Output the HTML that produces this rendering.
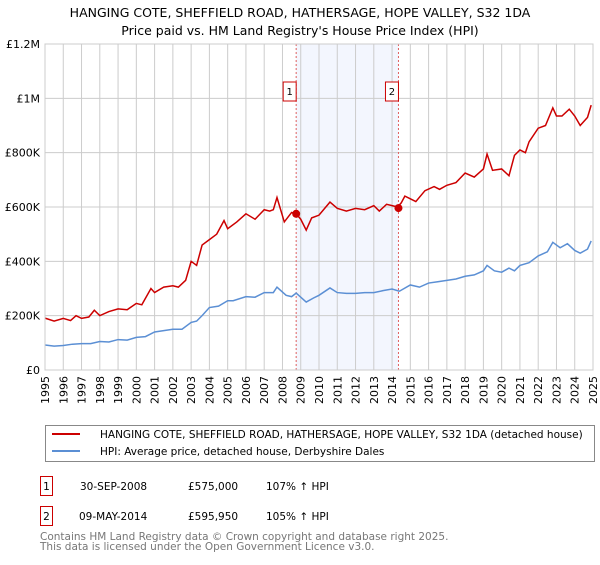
<!DOCTYPE html>
<html><head><meta charset="utf-8"><style>
body{margin:0;background:#fff;font-family:"Liberation Sans","DejaVu Sans",sans-serif;}
</style></head><body>
<svg width="600" height="560" xmlns="http://www.w3.org/2000/svg" font-family="DejaVu Sans, Liberation Sans, sans-serif">
<text x="300" y="17" text-anchor="middle" font-size="12.5" fill="#000">HANGING COTE, SHEFFIELD ROAD, HATHERSAGE, HOPE VALLEY, S32 1DA</text>
<text x="300" y="35" text-anchor="middle" font-size="12.5" fill="#000">Price paid vs. HM Land Registry's House Price Index (HPI)</text>
<g id="plot"></g>
<g>
<rect x="45.5" y="425.5" width="549" height="36" fill="#fff" stroke="#888"/>
<line x1="52" y1="434" x2="80" y2="434" stroke="#cc0000" stroke-width="2"/>
<text x="100" y="438" font-size="10.5">HANGING COTE, SHEFFIELD ROAD, HATHERSAGE, HOPE VALLEY, S32 1DA (detached house)</text>
<line x1="52" y1="451" x2="80" y2="451" stroke="#5b8fd4" stroke-width="2"/>
<text x="100" y="455" font-size="10.5">HPI: Average price, detached house, Derbyshire Dales</text>
</g>
<g font-size="10.5">
<rect x="40.5" y="476.5" width="12" height="19" fill="#fff" stroke="#cc0000"/>
<text x="46.5" y="490" text-anchor="middle">1</text>
<text x="80" y="490">30-SEP-2008</text>
<text x="188" y="490">£575,000</text>
<text x="266" y="490">107% ↑ HPI</text>
<rect x="40.5" y="506.5" width="12" height="19" fill="#fff" stroke="#cc0000"/>
<text x="46.5" y="520" text-anchor="middle">2</text>
<text x="79" y="520">09-MAY-2014</text>
<text x="188" y="520">£595,950</text>
<text x="266" y="520">105% ↑ HPI</text>
</g>
<text x="40" y="540" font-size="10.5" fill="#777">Contains HM Land Registry data © Crown copyright and database right 2025.</text>
<text x="40" y="550" font-size="10.5" fill="#777">This data is licensed under the Open Government Licence v3.0.</text>
</svg>
<script>
const yTicks=[0,200,400,600,800,1000,1200];
const yTickLabels=["£0","£200K","£400K","£600K","£800K","£1M","£1.2M"];
const xYears=[1995,1996,1997,1998,1999,2000,2001,2002,2003,2004,2005,2006,2007,2008,2009,2010,2011,2012,2013,2014,2015,2016,2017,2018,2019,2020,2021,2022,2023,2024,2025];
const redDates=[1995,1995.5,1996,1996.4,1996.7,1997,1997.4,1997.7,1998,1998.5,1999,1999.5,2000,2000.3,2000.8,2001,2001.5,2002,2002.3,2002.7,2003,2003.3,2003.6,2004,2004.4,2004.8,2005,2005.5,2006,2006.5,2007,2007.3,2007.5,2007.7,2008.1,2008.5,2008.75,2009,2009.3,2009.6,2010,2010.6,2011,2011.5,2012,2012.5,2013,2013.3,2013.7,2014,2014.3,2014.5,2014.7,2015,2015.3,2015.8,2016.3,2016.6,2017,2017.5,2018,2018.5,2019,2019.2,2019.5,2020,2020.4,2020.7,2021,2021.3,2021.5,2022,2022.4,2022.8,2023,2023.3,2023.7,2024,2024.3,2024.7,2024.9];
const redValues=[191,180,190,182,200,190,195,220,200,215,225,222,245,240,300,285,305,310,305,330,400,385,460,480,500,550,520,545,575,555,590,585,590,635,545,580,575,555,515,560,570,618,595,585,595,590,605,585,610,605,600,615,640,630,620,660,675,665,680,690,725,710,740,795,735,740,715,790,810,800,840,890,900,965,935,935,960,935,900,930,975];
const hpiDates=[1995,1995.5,1996,1996.5,1997,1997.5,1998,1998.5,1999,1999.5,2000,2000.5,2001,2001.5,2002,2002.5,2003,2003.3,2003.6,2004,2004.5,2005,2005.3,2006,2006.5,2007,2007.5,2007.7,2008.2,2008.5,2008.75,2009.3,2009.7,2010,2010.6,2011,2011.5,2012,2012.5,2013,2013.5,2014,2014.4,2015,2015.5,2016,2016.5,2017,2017.5,2018,2018.5,2019,2019.2,2019.6,2020,2020.4,2020.7,2021,2021.5,2022,2022.5,2022.8,2023.2,2023.6,2024,2024.3,2024.7,2024.9];
const hpiValues=[92,88,90,95,97,97,105,103,112,110,120,123,140,145,150,150,175,180,200,230,235,255,255,270,268,285,285,305,275,270,283,250,265,275,302,285,282,282,285,285,292,298,290,313,305,320,325,330,335,345,350,365,385,365,360,375,365,385,395,420,435,470,450,465,440,430,445,475];
const X0=45,X1=593,Y0=370,Y1=44;
const xs=t=>X0+(t-1995)/30*(X1-X0);
const ys=v=>Y0-v/1200*(Y0-Y1);
const NS="http://www.w3.org/2000/svg";
const g=document.getElementById('plot');
function mk(tag,at,parent){const e=document.createElementNS(NS,tag);for(const k in at)e.setAttribute(k,at[k]);(parent||g).appendChild(e);return e;}
const band=mk('rect',{x:xs(2008.75),y:Y1,width:xs(2014.35)-xs(2008.75),height:Y0-Y1,fill:'#f3f6fe'});


xYears.forEach(yr=>{const l=mk('line',{x1:xs(yr),x2:xs(yr),y1:Y1,y2:Y0,stroke:'#cccccc','stroke-width':1});


const t=mk('text',{x:0,y:0,'font-size':11,'text-anchor':'end',transform:`translate(${xs(yr)+4},${Y0+6}) rotate(-90)`});t.textContent=yr;

});
yTicks.forEach((v,i)=>{const l=mk('line',{x1:X0,x2:X1,y1:ys(v),y2:ys(v),stroke:'#cccccc','stroke-width':1});


const t=mk('text',{x:X0-5,y:ys(v)+4,'font-size':11,'text-anchor':'end'});t.textContent=yTickLabels[i];

});
[[2008.75,'1'],[2014.35,'2']].forEach(([d,lab])=>{const l=mk('line',{x1:xs(d),x2:xs(d),y1:Y1,y2:Y0,stroke:'#e06060','stroke-dasharray':'2,2','stroke-width':1});


const r=mk('rect',{x:xs(d)-13,y:82,width:13,height:19,fill:'#fff',stroke:'#cc0000'});


const t=mk('text',{x:xs(d)-6.5,y:95,'font-size':10,'text-anchor':'middle'});t.textContent=lab;

});
const hp=mk('polyline',{points:hpiDates.map((d,i)=>xs(d)+','+ys(hpiValues[i])).join(' '),fill:'none',stroke:'#5b8fd4','stroke-width':1.5});


const rp=mk('polyline',{points:redDates.map((d,i)=>xs(d)+','+ys(redValues[i])).join(' '),fill:'none',stroke:'#cc0000','stroke-width':1.5});


const saleDates=[2008.75,2014.35],salePrices=[575,595.95];
saleDates.forEach((d,i)=>{const c=mk('circle',{cx:xs(d),cy:ys(salePrices[i]),r:4,fill:'#cc0000'});

});
const ax=mk('rect',{x:X0,y:Y1,width:X1-X0,height:Y0-Y1,fill:'none',stroke:'#cccccc'});


</script>
</body></html>
